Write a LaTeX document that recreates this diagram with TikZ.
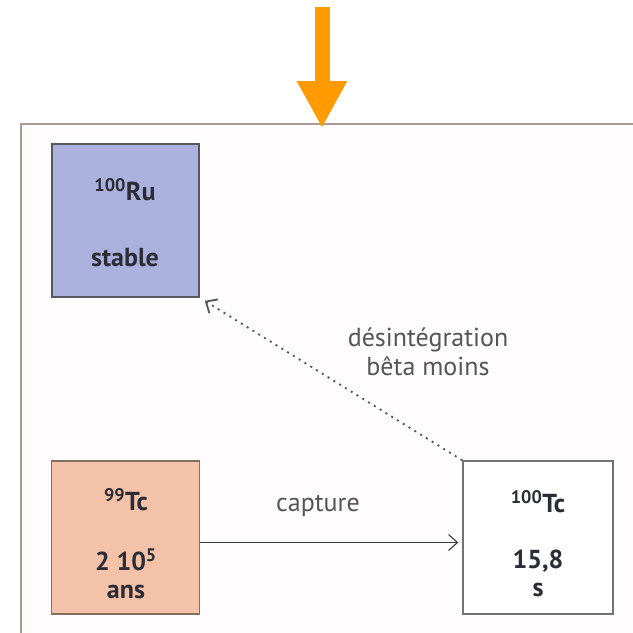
\documentclass[tikz,border=0pt]{standalone}
\usepackage{fontspec}
\setmainfont{PT Sans}
\usetikzlibrary{arrows.meta}
\definecolor{framec}{HTML}{A89A98}
\definecolor{panel}{HTML}{FEFCFC}
\definecolor{rufill}{HTML}{ABB1DD}
\definecolor{tcfill}{HTML}{F4C2A8}
\definecolor{inkc}{HTML}{2C2C36}
\definecolor{labelc}{HTML}{555555}
\definecolor{beam}{HTML}{FF9A00}
\tikzset{
  isotope/.style={draw, line width=1.3pt, minimum width=148pt, minimum height=153pt, inner sep=0pt},
  boxtext/.style={text=inkc, font=\fontsize{26}{28}\selectfont\bfseries, inner sep=0pt, align=center},
  arrowlabel/.style={text=labelc, font=\fontsize{26}{29}\selectfont, align=center, inner sep=0pt},
}
\begin{document}
\begin{tikzpicture}[x=1pt,y=-1pt]
\useasboundingbox (0,0) rectangle (633,633);
% panel
\begin{scope}
\clip (0,0) rectangle (633,633);
\draw[framec, fill=panel, line width=1.5pt] (21,124) rectangle (660,660);
\end{scope}
% incoming beam
\coordinate (beamtop) at (322,7);
\coordinate (beamtip) at (322,128);
\draw[beam, line width=15pt, -{Triangle[width=47pt,length=47pt]}] (beamtop) -- (beamtip);
% isotopes
\node[isotope, draw=inkc!80, fill=rufill, minimum width=147pt] (ru) at (125.5,220.5) {};
\node[isotope, draw=brown!40!black!70, fill=tcfill] (tcA) at (125.5,537.5) {};
\node[isotope, draw=black!55, fill=white, minimum width=150pt] (tcB) at (538,537.5) {};
\node[boxtext] (runame) at (125,190) {\textsuperscript{100}Ru};
\node[boxtext] (rulife) at (125,258) {stable};
\node[boxtext] (tcAname) at (126,500) {\textsuperscript{99}Tc};
\node[boxtext] (tcAlife) at (126,574) {2 10\textsuperscript{5}\\ans};
\node[boxtext] (tcBname) at (538,502) {\textsuperscript{100}Tc};
\node[boxtext] (tcBlife) at (538,573) {15,8\\s};
% connectors
\draw[labelc!70!black, line width=1.1pt, -{Straight Barb[length=9pt,width=16pt]}, shorten >=4pt]
  ([yshift=-5pt]tcA.east) -- ([yshift=-5pt]tcB.west);
\node[arrowlabel] (cap) at (318,506) {capture};
\draw[labelc, line width=1.8pt, dash pattern=on 2pt off 4.8pt, -{Straight Barb[length=9pt,width=16pt]}, shorten >=6pt]
  (tcB.north west) -- (ru.south east);
\node[arrowlabel] (decay) at (428,352) {désintégration\\bêta moins};
\end{tikzpicture}
\end{document}
